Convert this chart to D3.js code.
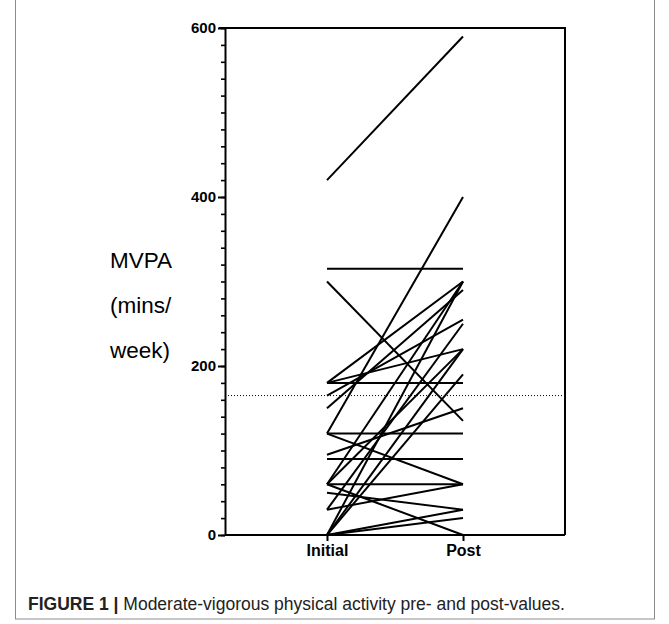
<!DOCTYPE html>
<html>
<head>
<meta charset="utf-8">
<script src="https://cdn.jsdelivr.net/npm/d3@7"></script>
<style>
  body { margin: 0; background: #fff; }
  svg { display: block; }
</style>
</head>
<body>
<svg id="chart" width="669" height="624"></svg>
<script>
// data (MVPA mins/week)
var categories = ["Initial", "Post"];
var initialValues = [420, 120, 315, 300, 180, 180, 180, 165, 150, 120, 120, 95, 90, 60, 60, 60, 30, 30, 0, 0, 0, 0, 0, 60, 50];
var postValues    = [590, 400, 315, 135, 300, 220, 180, 255, 290, 120, 60, 150, 90, 0, 220, 300, 60, 250, 30, 20, 190, 300, 220, 60, 30];
var yTicks = [0, 200, 400, 600];
var guideline = 165;
var axisTitle = ["MVPA", "(mins/", "week)"];
var captionBold = "FIGURE 1 | ";
var captionText = "Moderate-vigorous physical activity pre- and post-values.";

var svg = d3.select("#chart");
var plotL = 225, plotR = 565, plotT = 28, plotB = 535;

// outer figure frame
svg.append("rect")
  .attr("x", 15.5).attr("y", -1)
  .attr("width", 639).attr("height", 620)
  .attr("fill", "none")
  .attr("stroke", "#8c8c8c")
  .attr("stroke-width", 1);

var x = d3.scalePoint().domain(categories).range([plotL, plotR]).padding(0.75);
var y = d3.scaleLinear().domain([0, 600]).range([plotB, plotT]);

var plot = svg.append("g");

// frame top + right
plot.append("path")
  .attr("d", "M" + (plotL - 6) + "," + plotT + "H" + plotR + "V" + plotB)
  .attr("fill", "none")
  .attr("stroke", "#000")
  .attr("stroke-width", 2);

// minor ticks every 20
var minor = d3.range(0, 601, 20);
plot.append("g")
  .attr("transform", "translate(" + plotL + ",0)")
  .call(d3.axisLeft(y).tickValues(minor).tickSize(4).tickFormat(""))
  .call(function (g) { g.select(".domain").remove(); })
  .selectAll("line").attr("stroke-width", 1.6);

// y axis
var yAxis = plot.append("g")
  .attr("transform", "translate(" + plotL + ",0)")
  .call(d3.axisLeft(y).tickValues(yTicks).tickSize(7).tickSizeOuter(0).tickPadding(2));
yAxis.select(".domain").attr("stroke-width", 2);
yAxis.selectAll("line").attr("stroke-width", 2);
yAxis.selectAll("text")
  .style("font-family", "Liberation Sans, Arial, sans-serif")
  .style("font-weight", "bold")
  .style("font-size", "15px")
  .attr("fill", "#000");

// x axis
var xAxis = plot.append("g")
  .attr("transform", "translate(0," + plotB + ")")
  .call(d3.axisBottom(x).tickSize(6).tickSizeOuter(0).tickPadding(4));
xAxis.select(".domain").attr("stroke-width", 2).attr("d", "M" + plotL + ",0H" + plotR);
xAxis.selectAll("line").attr("stroke-width", 2);
xAxis.selectAll("text")
  .style("font-family", "Liberation Sans, Arial, sans-serif")
  .style("font-weight", "bold")
  .style("font-size", "16px")
  .attr("fill", "#000");

// guideline
plot.append("line")
  .attr("x1", plotL).attr("x2", plotR)
  .attr("y1", y(guideline)).attr("y2", y(guideline))
  .attr("stroke", "#000")
  .attr("stroke-width", 1)
  .attr("stroke-dasharray", "1,2");

// subject lines
var pairs = initialValues.map(function (v, i) { return [v, postValues[i]]; });
plot.selectAll(".subject").data(pairs).enter().append("line")
  .attr("class", "subject")
  .attr("x1", x("Initial")).attr("x2", x("Post"))
  .attr("y1", function (d) { return y(d[0]); })
  .attr("y2", function (d) { return y(d[1]); })
  .attr("stroke", "#000")
  .attr("stroke-width", 2);

// axis title
var title = svg.append("text")
  .attr("x", 110)
  .attr("y", 268)
  .style("font-family", "Liberation Sans, Arial, sans-serif")
  .style("font-size", "22.5px")
  .attr("fill", "#000");
title.selectAll("tspan").data(axisTitle).enter().append("tspan")
  .attr("x", 110)
  .attr("dy", function (d, i) { return i === 0 ? 0 : 45; })
  .text(function (d) { return d; });

// caption
var cap = svg.append("text")
  .attr("x", 28)
  .attr("y", 610)
  .style("font-family", "Liberation Sans, Arial, sans-serif")
  .style("font-size", "17.5px")
  .attr("fill", "#222");
cap.append("tspan").style("font-weight", "bold").text(captionBold);
cap.append("tspan").text(captionText);
</script>
</body>
</html>
